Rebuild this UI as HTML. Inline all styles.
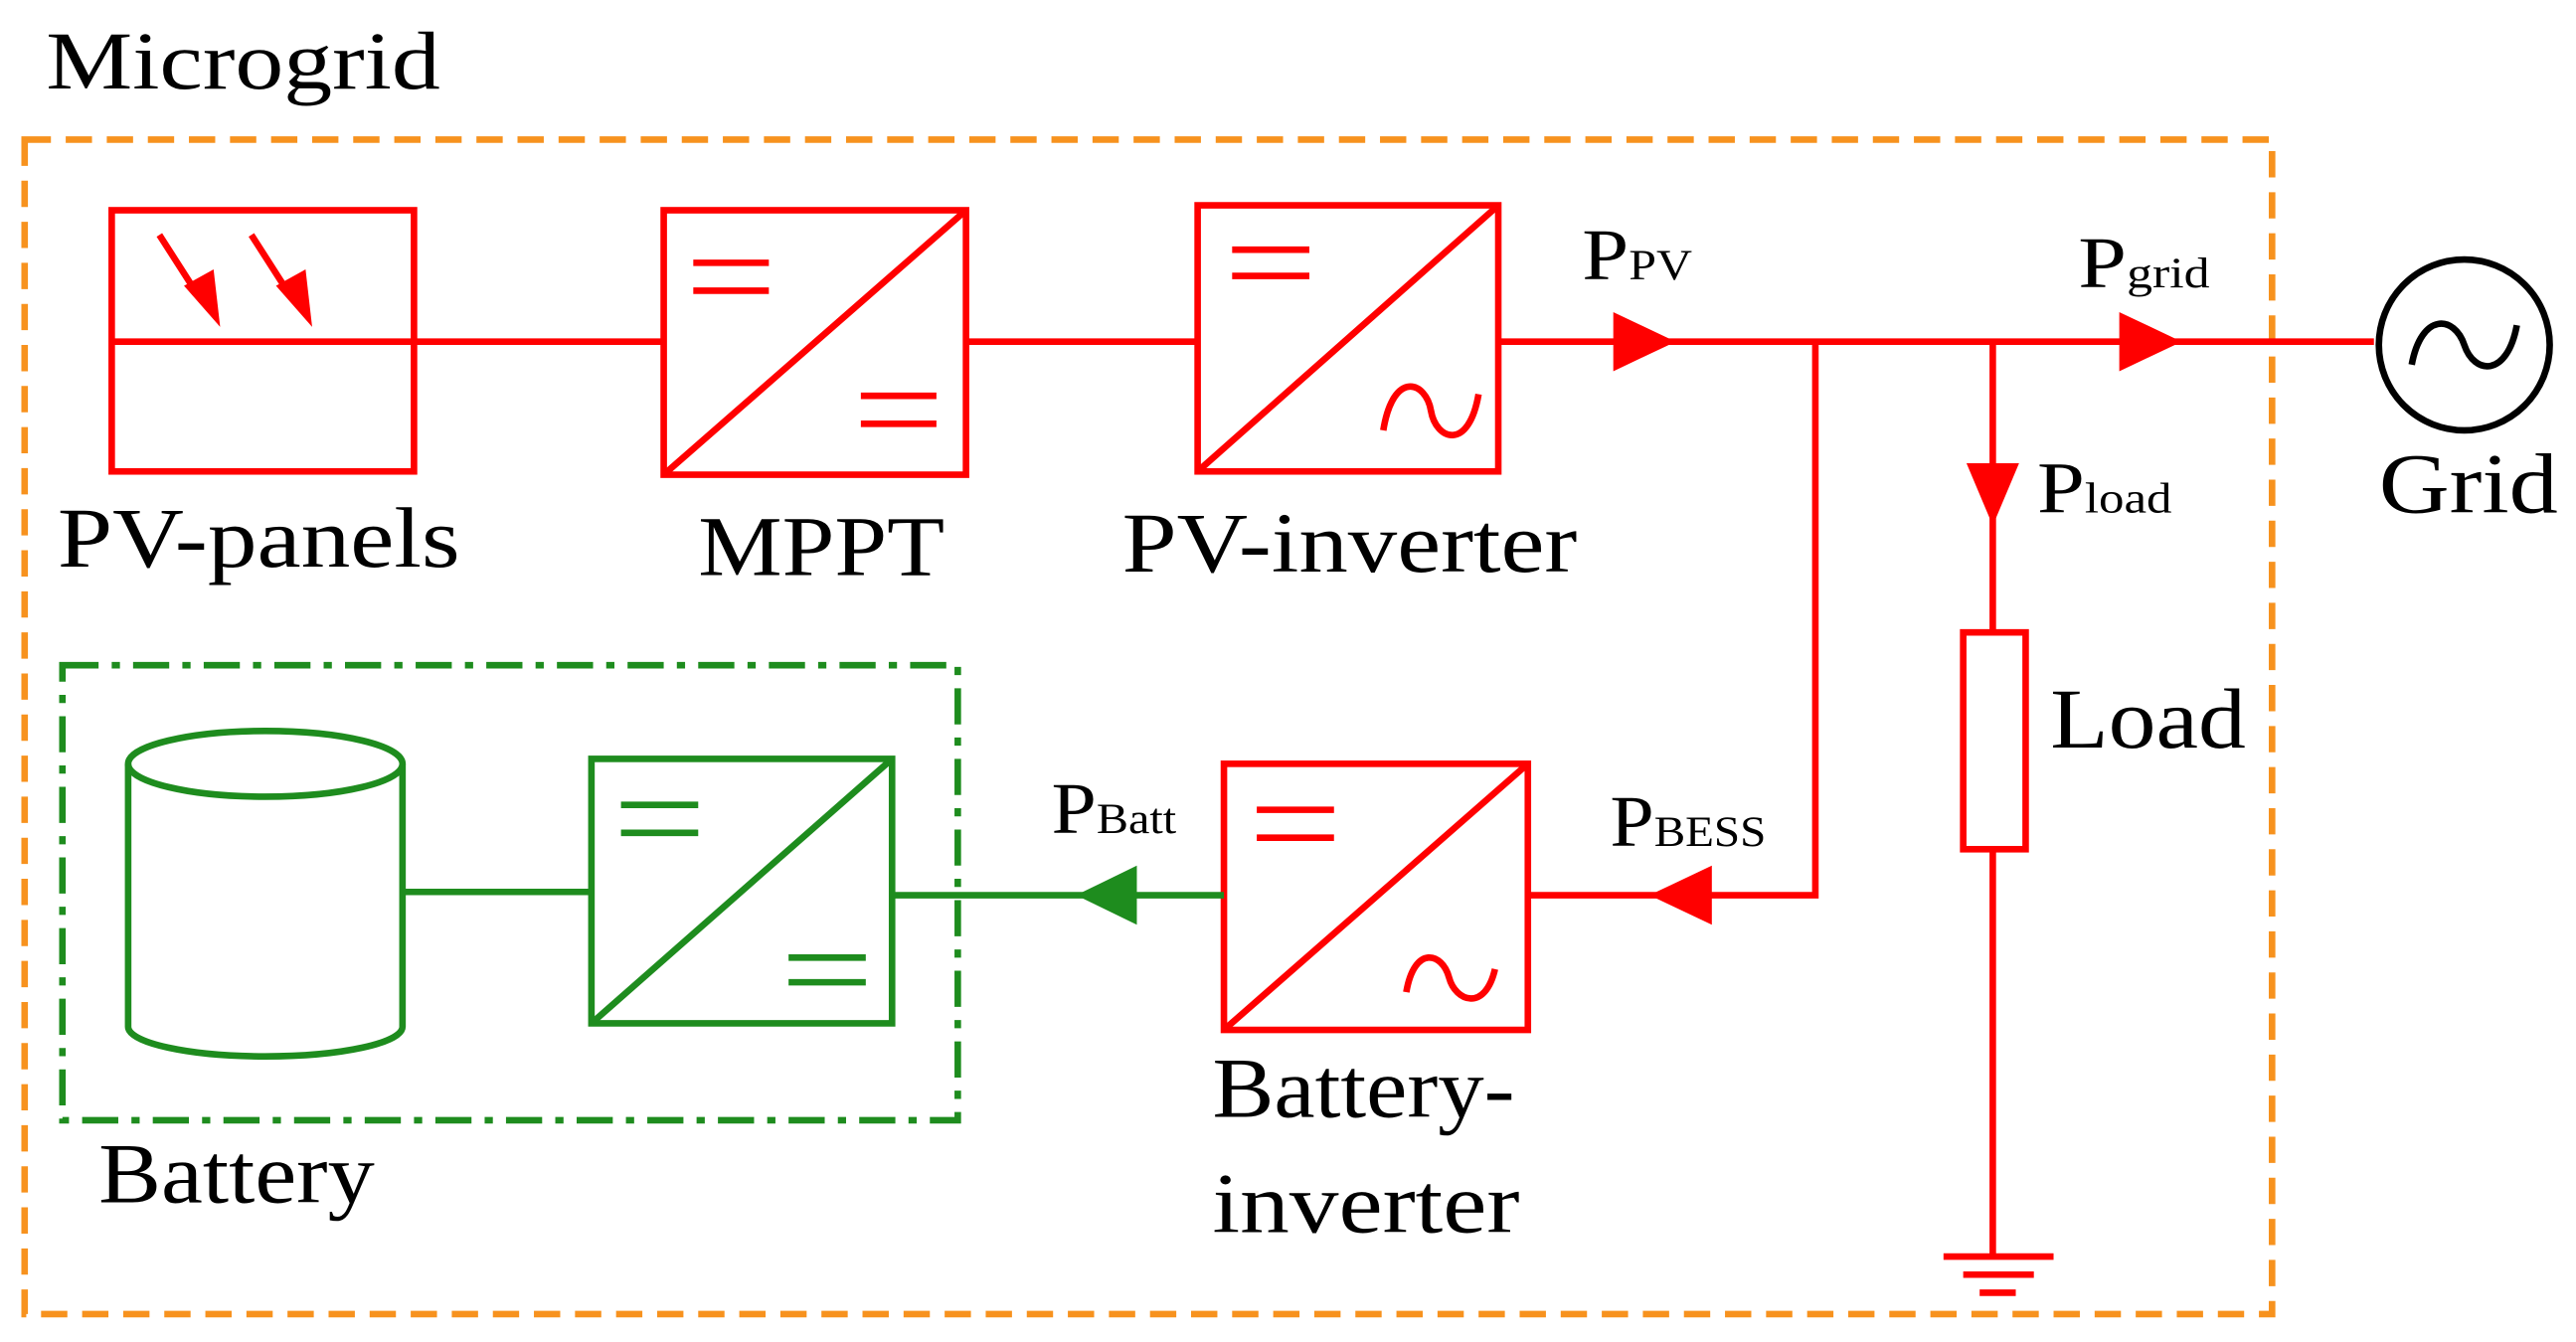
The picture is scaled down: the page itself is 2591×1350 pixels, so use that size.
<!DOCTYPE html>
<html><head><meta charset="utf-8"><style>
html,body{margin:0;padding:0;background:#fff;}
svg{display:block;}
text{font-family:"Liberation Serif",serif;fill:#000;}
</style></head><body>
<svg width="2591" height="1350" viewBox="0 0 1568 817" preserveAspectRatio="none" xmlns="http://www.w3.org/2000/svg">
<rect width="1568" height="817" fill="#fff"/>
<text x="28" y="54" font-size="50" textLength="240" lengthAdjust="spacingAndGlyphs">Microgrid</text>
<rect x="15" y="85" width="1368" height="715" fill="none" stroke="#F7921E" stroke-width="4" stroke-dasharray="16,9"/>
<g fill="none" stroke="#FF0000" stroke-width="4">
 <rect x="68" y="128" width="184" height="159"/>
 <line x1="68" y1="208" x2="252" y2="208"/>
 <line x1="97" y1="143" x2="122" y2="182"/>
 <line x1="153" y1="143" x2="178" y2="182"/>
 <line x1="252" y1="208" x2="404" y2="208"/>
 <rect x="404" y="128" width="184" height="161"/>
 <line x1="404" y1="289" x2="588" y2="128"/>
 <line x1="422" y1="160" x2="468" y2="160"/><line x1="422" y1="177" x2="468" y2="177"/>
 <line x1="524" y1="241" x2="570" y2="241"/><line x1="524" y1="258" x2="570" y2="258"/>
 <line x1="588" y1="208" x2="729" y2="208"/>
 <rect x="729" y="125" width="183" height="162"/>
 <line x1="729" y1="287" x2="912" y2="125"/>
 <line x1="750" y1="152" x2="797" y2="152"/><line x1="750" y1="168" x2="797" y2="168"/>
 <path d="M842 262 C848 225 868 232 871 250 C874 268 894 275 900 240"/>
 <line x1="912" y1="208" x2="1445" y2="208"/>
 <polyline points="1105,208 1105,545 930,545"/>
 <rect x="745" y="465" width="185" height="162"/>
 <line x1="745" y1="627" x2="930" y2="465"/>
 <line x1="765" y1="493" x2="812" y2="493"/><line x1="765" y1="510" x2="812" y2="510"/>
 <path d="M856 604 C861 575 878 580 882 595 C886 610 904 616 910 590"/>
 <line x1="1213" y1="208" x2="1213" y2="385"/>
 <rect x="1195" y="385" width="38" height="132"/>
 <line x1="1213" y1="517" x2="1213" y2="765"/>
 <line x1="1183" y1="765" x2="1250" y2="765"/>
 <line x1="1195" y1="776" x2="1238" y2="776"/>
 <line x1="1205" y1="787" x2="1227" y2="787"/>
</g>
<g fill="#FF0000">
 <polygon points="112,174 134,199 130,164"/>
 <polygon points="168,174 190,199 186,164"/>
 <polygon points="982,190 1020,208 982,226"/>
 <polygon points="1290,190 1328,208 1290,226"/>
 <polygon points="1197,282 1229,282 1213,320"/>
 <polygon points="1042,527 1004,545 1042,563"/>
</g>
<circle cx="1500" cy="210" r="52" fill="none" stroke="#000" stroke-width="4"/>
<path d="M1468 222 C1474 190 1494 192 1500 210 C1506 228 1526 230 1532 198" fill="none" stroke="#000" stroke-width="4"/>
<g fill="none" stroke="#1E8C1E" stroke-width="4">
 <rect x="38" y="405" width="545" height="277" stroke-dasharray="22,8,5,8"/>
 <path d="M78 465 L78 625 A83 18 0 0 0 245 625 L245 465"/>
 <ellipse cx="161.5" cy="465" rx="83.5" ry="20"/>
 <line x1="245" y1="543" x2="360" y2="543"/>
 <rect x="360" y="462" width="183" height="161"/>
 <line x1="360" y1="623" x2="543" y2="462"/>
 <line x1="378" y1="490" x2="425" y2="490"/><line x1="378" y1="507" x2="425" y2="507"/>
 <line x1="480" y1="583" x2="527" y2="583"/><line x1="480" y1="598" x2="527" y2="598"/>
 <line x1="543" y1="545" x2="745" y2="545"/>
</g>
<polygon points="692,527 655,545 692,563" fill="#1E8C1E"/>
<g font-size="52">
<text x="35" y="345" textLength="245" lengthAdjust="spacingAndGlyphs">PV-panels</text>
<text x="425" y="350" textLength="150" lengthAdjust="spacingAndGlyphs">MPPT</text>
<text x="683" y="348" textLength="277" lengthAdjust="spacingAndGlyphs">PV-inverter</text>
<text x="738" y="680" textLength="184" lengthAdjust="spacingAndGlyphs">Battery-</text>
<text x="738" y="750" textLength="187" lengthAdjust="spacingAndGlyphs">inverter</text>
<text x="60" y="732" textLength="168" lengthAdjust="spacingAndGlyphs">Battery</text>
<text x="1248" y="455" textLength="119" lengthAdjust="spacingAndGlyphs">Load</text>
<text x="1448" y="312" textLength="109" lengthAdjust="spacingAndGlyphs">Grid</text>
</g>
<text x="963" y="170" font-size="44" textLength="67" lengthAdjust="spacingAndGlyphs">P<tspan font-size="26">PV</tspan></text>
<text x="1265" y="175" font-size="44" textLength="80" lengthAdjust="spacingAndGlyphs">P<tspan font-size="26">grid</tspan></text>
<text x="1240" y="312" font-size="44" textLength="82" lengthAdjust="spacingAndGlyphs">P<tspan font-size="26">load</tspan></text>
<text x="980" y="515" font-size="44" textLength="95" lengthAdjust="spacingAndGlyphs">P<tspan font-size="26">BESS</tspan></text>
<text x="640" y="507" font-size="44" textLength="76" lengthAdjust="spacingAndGlyphs">P<tspan font-size="26">Batt</tspan></text>
</svg>
</body></html>
